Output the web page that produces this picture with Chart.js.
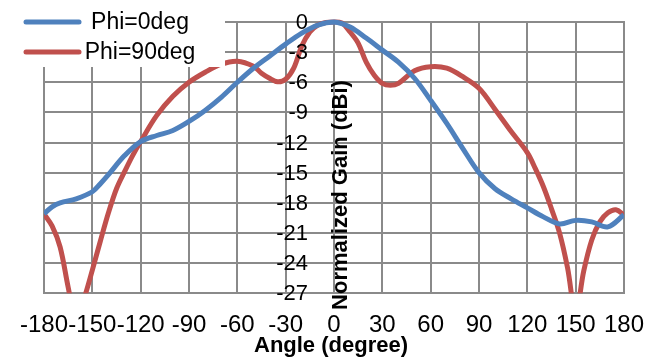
<!DOCTYPE html>
<html>
<head>
<meta charset="utf-8">
<script src="https://cdn.jsdelivr.net/npm/chart.js@4"></script>
<style>
  html, body { margin: 0; padding: 0; background: #fff; }
  #wrap { width: 662px; height: 358px; position: relative; }
</style>
</head>
<body>
<div id="wrap"><canvas id="gainChart"></canvas></div>
<script>
// Radiation pattern, values
const phi0Angles = [-180, -175, -170, -160, -150, -145, -140, -130, -120, -110, -100, -90, -80, -70, -60, -50, -40, -30, -20, -10, 0, 10, 20, 30, 40, 50, 60, 70, 80, 90, 100, 110, 120, 130, 140, 150, 160, 170, 180];
const phi0Gain = [-19.1, -18.4, -18.0, -17.6, -16.9, -16.1, -15.2, -13.3, -11.9, -11.3, -10.8, -9.9, -8.8, -7.5, -6.0, -4.6, -3.4, -2.2, -1.1, -0.3, 0, -0.5, -1.6, -2.8, -4.0, -5.6, -7.8, -10.1, -12.6, -15.0, -16.6, -17.6, -18.5, -19.4, -20.1, -19.75, -19.9, -20.4, -19.2];

const phi90Angles = [-180, -175, -170, -165, -160, -155, -150, -145, -140, -135, -130, -125, -120, -110, -100, -90, -80, -70, -60, -50, -45, -40, -35, -30, -25, -20, -15, -10, -5, 0, 5, 10, 15, 20, 25, 30, 35, 40, 50, 60, 70, 80, 90, 100, 110, 120, 125, 130, 135, 140, 145, 150, 155, 160, 165, 170, 175, 180];
const phi90Gain = [-19.1, -20.3, -22.4, -26.4, -30, -27.5, -24.7, -21.8, -19.0, -16.6, -14.9, -13.3, -11.9, -9.3, -7.4, -6.0, -5.0, -4.2, -3.9, -4.4, -5.1, -5.6, -5.95, -5.7, -4.6, -2.4, -1.0, -0.3, -0.05, 0, -0.1, -1.0, -2.1, -4.0, -5.3, -6.1, -6.3, -6.1, -4.85, -4.45, -4.6, -5.45, -6.6, -8.7, -10.9, -13.0, -14.6, -16.4, -18.6, -21.0, -24.5, -29, -24.8, -21.7, -19.9, -19.0, -18.7, -19.2];

const yTicks = [0, -3, -6, -9, -12, -15, -18, -21, -24, -27];

const seriesNames = ['Phi=0deg', 'Phi=90deg'];
const seriesColors = ['#4F81BD', '#C0504D'];
const xTitle = 'Angle (degree)';
const yTitle = 'Normalized Gain (dBi)';

const toPoints = (xs, ys) => xs.map((x, i) => ({ x: x, y: ys[i] }));
const fontFamily = '"Liberation Sans", Arial, sans-serif';
const gridColor = '#8a8a8a';

// horizontal grid drawn by hand (the y scale grid did not show up)
const hGridPlugin = {
  id: 'hGrid',
  beforeDatasetsDraw(chart) {
    const ctx = chart.ctx;
    const area = chart.chartArea;
    const ys = chart.scales.y;
    ctx.save();
    ctx.strokeStyle = gridColor;
    ctx.lineWidth = 2;
    yTicks.forEach(v => {
      const y = Math.round(ys.getPixelForValue(v));
      ctx.beginPath();
      ctx.moveTo(area.left - 1, y);
      ctx.lineTo(area.right + 1, y);
      ctx.stroke();
    });
    ctx.restore();
  }
};

// y labels sit on the 0 deg line, plus the legend and the axis titles
const overlayPlugin = {
  id: 'overlay',
  afterDraw(chart) {
    const ctx = chart.ctx;
    const xs = chart.scales.x, ys = chart.scales.y;
    const x0 = xs.getPixelForValue(0);
    ctx.save();
    ctx.fillStyle = '#000';
    ctx.font = '22px ' + fontFamily;
    ctx.textAlign = 'right';
    ctx.textBaseline = 'middle';
    yTicks.forEach(v => {
      ctx.fillText(String(v), x0 - 26, ys.getPixelForValue(v) + 1);
    });

    // legend box hides the grid behind it
    ctx.fillStyle = '#fff';
    ctx.fillRect(0, 0, 225, 67);
    ctx.lineCap = 'round';
    ctx.lineWidth = 5;
    ctx.font = '23px ' + fontFamily;
    ctx.textAlign = 'center';
    seriesNames.forEach((name, i) => {
      const y = 22 + i * 30;
      ctx.strokeStyle = seriesColors[i];
      ctx.beginPath();
      ctx.moveTo(26, y);
      ctx.lineTo(79, y);
      ctx.stroke();
      ctx.fillStyle = '#000';
      ctx.fillText(name, 140, y + 1);
    });

    ctx.font = 'bold 22px ' + fontFamily;
    ctx.fillText(xTitle, 331, 346);
    ctx.translate(341, 195);
    ctx.rotate(-Math.PI / 2);
    ctx.fillText(yTitle, 0, 0);
    ctx.restore();
  }
};

new Chart(document.getElementById('gainChart'), {
  type: 'line',
  data: {
    datasets: [
      {
        label: seriesNames[0],
        data: toPoints(phi0Angles, phi0Gain),
        borderColor: seriesColors[0],
        borderWidth: 5,
        pointRadius: 0,
        tension: 0.35,
        fill: false,
        clip: { left: 0, top: 6, right: 0, bottom: 0 }
      },
      {
        label: seriesNames[1],
        data: toPoints(phi90Angles, phi90Gain),
        borderColor: seriesColors[1],
        borderWidth: 5,
        pointRadius: 0,
        tension: 0.35,
        fill: false,
        clip: { left: 0, top: 6, right: 0, bottom: 0 }
      }
    ]
  },
  options: {
    responsive: true,
    maintainAspectRatio: false,
    animation: false,
    layout: { padding: { left: 36, right: 36, top: 22, bottom: 0 } },
    plugins: {
      legend: { display: false },
      tooltip: { enabled: false }
    },
    scales: {
      x: {
        type: 'linear',
        min: -180,
        max: 180,
        grid: { color: gridColor, lineWidth: 2, drawTicks: false },
        border: { color: gridColor, width: 2 },
        ticks: { stepSize: 30, color: '#000', font: { family: fontFamily, size: 24 }, padding: 18, maxRotation: 0, autoSkip: false }
      },
      y: {
        type: 'linear',
        min: -27,
        max: 0,
        position: 'left',
        grid: { display: false },
        border: { display: false },
        ticks: { stepSize: 3, autoSkip: false, display: false }
      }
    }
  },
  plugins: [hGridPlugin, overlayPlugin]
});
</script>
</body>
</html>
